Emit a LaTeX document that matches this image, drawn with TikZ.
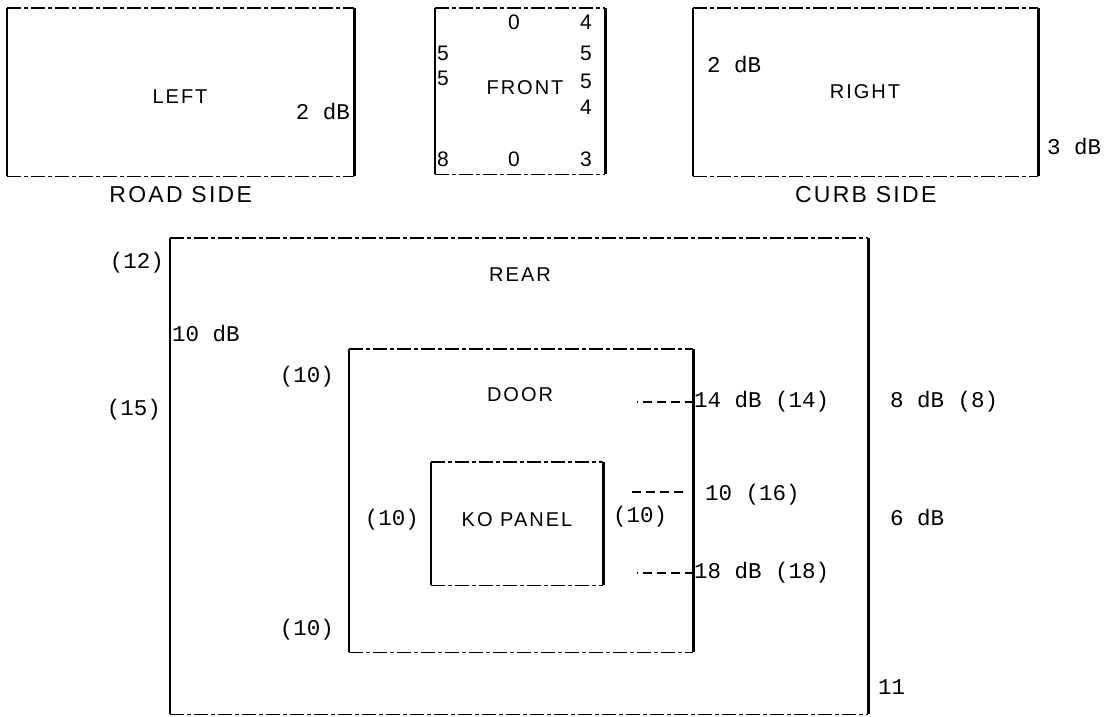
\documentclass[tikz,border=0pt]{standalone}
\usepackage{fontspec}
\newfontfamily\dbfont{Liberation Mono}
\newfontfamily\tagfont[LetterSpace=10]{Liberation Sans}

\usetikzlibrary{positioning}

\begin{document}
\begin{tikzpicture}[x=1pt, y=-1pt,
    panel/.style={inner sep=0pt, anchor=north west},
    vside/.style={line width=2.8pt},
    hside/.style={line width=1.8pt, dash pattern=on 14pt off 3pt on 4pt off 3pt},
    leader/.style={line width=1.8pt, dash pattern=on 9pt off 5pt},
    db/.style={font=\dbfont\fontsize{22.5}{26}\selectfont, inner sep=0pt},
    tag/.style={font=\tagfont\fontsize{20}{23}\selectfont, inner sep=0pt},
    fnum/.style={font=\tagfont\fontsize{21}{24}\selectfont, inner sep=0pt},
    caption/.style={font=\tagfont\fontsize{23}{26}\selectfont, inner sep=0pt}]

    \useasboundingbox (0,0) rectangle (1108,717);

    % --- TOP ROW ---
    % (1) Left side
    \node[panel, minimum width=347pt, minimum height=168pt] (left) at (7,8) {};
    \draw[vside] (left.north west) -- (left.south west);
    \draw[vside] (left.north east) -- (left.south east);
    \draw[hside] (left.north west) -- (left.north east);
    \draw[hside] (left.south west) -- (left.south east);
    \node[tag] (lefttag) at (180,97) {LEFT};
    \node[db, anchor=east] (leftdb) at (350,111) {2 dB};
    \node[caption, below=10pt of left] (roadside) {ROAD SIDE};

    % (2) Front
    \node[panel, minimum width=170pt, minimum height=166pt] (front) at (435,8) {};
    \draw[vside] (front.north west) -- (front.south west);
    \draw[vside] (front.north east) -- (front.south east);
    \draw[hside] (front.north west) -- (front.north east);
    \draw[hside] (front.south west) -- (front.south east);
    \node[tag] (fronttag) at (525,88) {FRONT};
    \node[fnum] (f1) at (514,22) {0};
    \node[fnum] (f2) at (586,22) {4};
    \node[fnum] (f3) at (443,53) {5};
    \node[fnum] (f4) at (443,78) {5};
    \node[fnum] (f5) at (586,53) {5};
    \node[fnum] (f6) at (586,81) {5};
    \node[fnum] (f7) at (586,107) {4};
    \node[fnum] (f8) at (443,159) {8};
    \node[fnum] (f9) at (514,159) {0};
    \node[fnum] (f10) at (586,159) {3};

    % (3) Right side
    \node[panel, minimum width=345pt, minimum height=168pt] (right) at (693,8) {};
    \draw[vside] (right.north west) -- (right.south west);
    \draw[vside] (right.north east) -- (right.south east);
    \draw[hside] (right.north west) -- (right.north east);
    \draw[hside] (right.south west) -- (right.south east);
    \node[tag] (righttag) at (865,92) {RIGHT};
    \node[db, anchor=west] (rightdb1) at (707,64) {2 dB};
    \node[db, anchor=west] (rightdb2) at (1047,146) {3 dB};
    \node[caption, below=10pt of right] (curbside) {CURB SIDE};

    % --- BOTTOM ---
    % (4) Rear
    \node[panel, minimum width=698pt, minimum height=476pt] (rear) at (170,238) {};
    \draw[vside] (rear.north west) -- (rear.south west);
    \draw[vside] (rear.north east) -- (rear.south east);
    \draw[hside] (rear.north west) -- (rear.north east);
    \draw[hside] (rear.south west) -- (rear.south east);
    \node[tag] (reartag) at (520,275) {REAR};
    \node[db, anchor=east] (r12) at (164,263) {(12)};
    \node[db, anchor=west] (r10) at (172,333) {10 dB};
    \node[db, anchor=east] (r15) at (161,410) {(15)};
    \node[db, anchor=west] (r8) at (890,402) {8 dB (8)};
    \node[db, anchor=west] (r6) at (890,517) {6 dB};
    \node[db, anchor=west] (r11) at (878,687) {11};

    % (5) Door
    \node[panel, minimum width=344pt, minimum height=303pt] (door) at (349,349) {};
    \draw[vside] (door.north west) -- (door.south west);
    \draw[vside] (door.north east) -- (door.south east);
    \draw[hside] (door.north west) -- (door.north east);
    \draw[hside] (door.south west) -- (door.south east);
    \node[tag] (doortag) at (520,395) {DOOR};
    \node[db, anchor=east] (d10a) at (334,377) {(10)};
    \node[db, anchor=east] (d10b) at (334,630) {(10)};
    \node[db, anchor=west] (d14) at (694,402) {14 dB (14)};
    \node[db, anchor=west] (d16) at (705,495) {10 (16)};
    \node[db, anchor=west] (d18) at (694,573) {18 dB (18)};
    \coordinate (d16end) at (683,492);
    \draw[leader] (d14.west) -- +(-57,0);
    \draw[leader] (d16end) -- +(-53,0);
    \draw[leader] (d18.west) -- +(-57,0);

    % (6) KO panel
    \node[panel, minimum width=172pt, minimum height=123pt] (ko) at (431,462) {};
    \draw[vside] (ko.north west) -- (ko.south west);
    \draw[vside] (ko.north east) -- (ko.south east);
    \draw[hside] (ko.north west) -- (ko.north east);
    \draw[hside] (ko.south west) -- (ko.south east);
    \node[tag] (kotag) at (517,520) {KO PANEL};
    \node[db, anchor=east] (k10a) at (419,520) {(10)};
    \node[db, anchor=west] (k10b) at (613,517) {(10)};

\end{tikzpicture}
\end{document}
